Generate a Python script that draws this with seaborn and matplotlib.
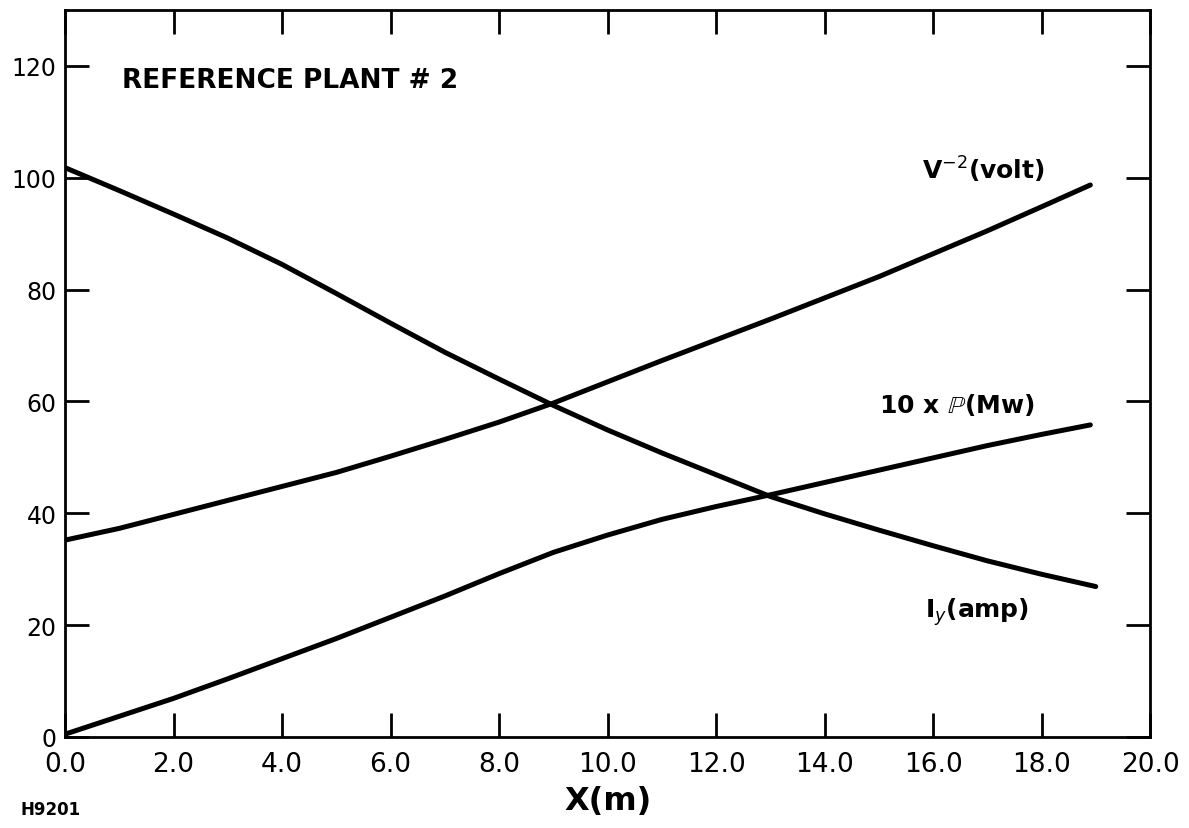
import matplotlib
matplotlib.use('Agg')
import matplotlib.pyplot as plt
import pandas as pd
import seaborn as sns

# Values
x_iy = [0, 1, 2, 3, 4, 5, 6, 7, 8, 9, 10, 11, 12, 13, 14, 15, 16, 17, 18, 19]
iy_amp = [101.8, 97.7, 93.5, 89.2, 84.5, 79.3, 74.0, 68.8, 64.0, 59.3,
          54.9, 50.8, 46.9, 43.0, 39.9, 37.0, 34.2, 31.5, 29.1, 26.9]

x_v = [0, 1, 2, 3, 4, 5, 6, 7, 8, 9, 10, 11, 12, 13, 14, 15, 16, 17, 18, 18.9]
v_volt = [35.2, 37.3, 39.8, 42.3, 44.8, 47.3, 50.2, 53.2, 56.3, 59.7,
          63.5, 67.3, 71.0, 74.7, 78.5, 82.3, 86.4, 90.5, 94.8, 98.7]

x_p = [0, 1, 2, 3, 4, 5, 6, 7, 8, 9, 10, 11, 12, 13, 14, 15, 16, 17, 18, 18.9]
p_mw = [0.5, 3.7, 6.9, 10.4, 14.0, 17.6, 21.4, 25.2, 29.2, 33.0,
        36.1, 38.9, 41.2, 43.3, 45.5, 47.7, 49.9, 52.1, 54.1, 55.8]

x_ticks = [0, 2, 4, 6, 8, 10, 12, 14, 16, 18, 20]
x_ticklabels = ['0.0', '2.0', '4.0', '6.0', '8.0', '10.0', '12.0', '14.0', '16.0', '18.0', '20.0']
y_ticks = [0, 20, 40, 60, 80, 100, 120]
y_ticklabels = ['0', '20', '40', '60', '80', '100', '120']

sns.set_style('ticks')
plt.rcParams['font.family'] = ['DejaVu Sans']
plt.rcParams['text.color'] = 'black'
plt.rcParams['axes.labelcolor'] = 'black'

fig = plt.figure(figsize=(11.89, 8.29), dpi=100)
ax = fig.add_axes([0.0547, 0.1098, 0.9125, 0.877])

df_iy = pd.DataFrame({'x': x_iy, 'y': iy_amp})
df_v = pd.DataFrame({'x': x_v, 'y': v_volt})
df_p = pd.DataFrame({'x': x_p, 'y': p_mw})

for d in [df_iy, df_v, df_p]:
    sns.lineplot(data=d, x='x', y='y', ax=ax, color='black', linewidth=3.6,
                 sort=False, solid_capstyle='round', solid_joinstyle='round')

ax.set_xlim(0, 20)
ax.set_ylim(0, 130)
ax.set_xticks(x_ticks)
ax.set_xticklabels(x_ticklabels, fontsize=19)
ax.set_yticks(y_ticks)
ax.set_yticklabels(y_ticklabels, fontsize=17)
ax.tick_params(direction='in', length=17, width=2, top=True, right=True,
               color='black', labelcolor='black')
ax.tick_params(axis='x', pad=10)
ax.tick_params(axis='y', pad=6)
for s in ax.spines.values():
    s.set_linewidth(2)
    s.set_color('black')

ax.set_xlabel('X(m)', fontsize=23, fontweight='bold', labelpad=6)
ax.set_ylabel('')

ax.text(1.05, 117.5, 'REFERENCE PLANT # 2', fontsize=19, fontweight='bold', va='center', ha='left')
ax.text(15.8, 101.5, r'V$^{-2}$(volt)', fontsize=18, fontweight='bold', va='center', ha='left')
ax.text(15.0, 59.5, r'10 x $\mathbb{P}$(Mw)', fontsize=18, fontweight='bold', va='center', ha='left')
ax.text(15.85, 22.5, r'I$_y$(amp)', fontsize=18, fontweight='bold', va='center', ha='left')
fig.text(0.017, 0.012, 'H9201', fontsize=12, fontweight='bold', ha='left', va='bottom')

fig.savefig('out.png', dpi=100)
